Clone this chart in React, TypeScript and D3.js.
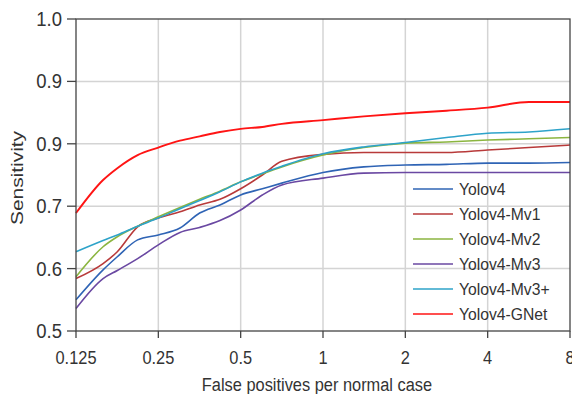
import React from "react";
import * as d3 from "d3";

// false positives per normal case (x), shared by every series
const fpRates = [0.125, 0.157, 0.177, 0.21, 0.25, 0.3, 0.354, 0.42, 0.5, 0.6, 0.707, 1, 1.41, 2, 2.83, 4, 5.66, 8];

const yolov4 = [0.550, 0.598, 0.619, 0.646, 0.654, 0.665, 0.689, 0.702, 0.718, 0.728, 0.737, 0.754, 0.763, 0.766, 0.767, 0.769, 0.769, 0.770];
const yolov4Mv1 = [0.584, 0.608, 0.627, 0.667, 0.681, 0.691, 0.702, 0.711, 0.728, 0.750, 0.772, 0.783, 0.786, 0.786, 0.786, 0.790, 0.794, 0.798];
const yolov4Mv2 = [0.587, 0.635, 0.651, 0.668, 0.683, 0.698, 0.711, 0.724, 0.739, 0.752, 0.763, 0.782, 0.794, 0.801, 0.803, 0.806, 0.808, 0.810];
const yolov4Mv3 = [0.536, 0.584, 0.597, 0.616, 0.638, 0.658, 0.666, 0.677, 0.694, 0.718, 0.734, 0.745, 0.753, 0.754, 0.754, 0.754, 0.754, 0.754];
const yolov4Mv3p = [0.627, 0.645, 0.654, 0.668, 0.681, 0.696, 0.709, 0.723, 0.739, 0.753, 0.764, 0.784, 0.795, 0.802, 0.810, 0.817, 0.819, 0.824];
const yolov4GNet = [0.689, 0.742, 0.761, 0.782, 0.794, 0.805, 0.812, 0.819, 0.824, 0.827, 0.832, 0.838, 0.844, 0.849, 0.853, 0.858, 0.867, 0.867];

const seriesNames = ["Yolov4", "Yolov4-Mv1", "Yolov4-Mv2", "Yolov4-Mv3", "Yolov4-Mv3+", "Yolov4-GNet"];
const seriesValues = [yolov4, yolov4Mv1, yolov4Mv2, yolov4Mv3, yolov4Mv3p, yolov4GNet];
const seriesColors = ["#2f64b5", "#b83a3a", "#8bb540", "#6a48a2", "#2ea3c9", "#ff1414"];

const xTicks = [0.125, 0.25, 0.5, 1, 2, 4, 8];
const xTickLabels = ["0.125", "0.25", "0.5", "1", "2", "4", "8"];
const yTicks = [0.5, 0.6, 0.7, 0.8, 0.9, 1.0];
const yTickLabels = ["0.5", "0.6", "0.7", "0.9", "0.9", "1.0"];

const W = 572;
const H = 394;
const margin = { top: 19, right: 2, bottom: 63, left: 76 };
const font = "'Liberation Sans', Arial, Helvetica, sans-serif";
const stretch = 1.1; // the source text is a little taller than wide

export default function App() {
  const x = d3.scaleLog().base(2)
    .domain([0.125, 8])
    .range([margin.left, W - margin.right]);
  const y = d3.scaleLinear()
    .domain([0.5, 1.0])
    .range([H - margin.bottom, margin.top]);

  const line = d3.line<[number, number]>()
    .x(d => x(d[0]))
    .y(d => y(d[1]))
    .curve(d3.curveMonotoneX);

  const x0 = margin.left;
  const x1 = W - margin.right;
  const y0 = H - margin.bottom;
  const y1 = margin.top;

  const legendX = 413;
  const legendY = 189;

  return (
    <svg width={W} height={H} style={{ position: "absolute", left: 0, top: 0 }}>
      <rect width={W} height={H} fill="#fff" />
      {/* grid */}
      {xTicks.slice(1, -1).map(t => (
        <line key={"gx" + t} x1={x(t)} x2={x(t)} y1={y1} y2={y0} stroke="#d4d4d4" strokeWidth={1.5} />
      ))}
      {yTicks.slice(1, -1).map(t => (
        <line key={"gy" + t} x1={x0} x2={x1} y1={y(t)} y2={y(t)} stroke="#d4d4d4" strokeWidth={1.5} />
      ))}

      {/* curves */}
      {seriesValues.map((vals, i) => (
        <path
          key={seriesNames[i]}
          d={line(fpRates.map((f, j) => [f, vals[j]] as [number, number])) || ""}
          fill="none"
          stroke={seriesColors[i]}
          strokeWidth={seriesNames[i] === "Yolov4-GNet" ? 1.9 : 1.6}
        />
      ))}

      {/* frame */}
      <rect x={x0} y={y1} width={x1 - x0} height={y0 - y1} fill="none" stroke="#444" strokeWidth={1.3} />

      {/* y axis ticks */}
      {yTicks.map((t, i) => (
        <g key={"yt" + t}>
          <line x1={x0 - 9} x2={x0} y1={y(t)} y2={y(t)} stroke="#444" strokeWidth={1.3} />
          <text
            transform={`translate(${x0 - 14}, ${y(t) + 7}) scale(1, ${stretch})`}
            textAnchor="end" fontFamily={font} fontSize={18.5} fill="#333"
          >
            {yTickLabels[i]}
          </text>
        </g>
      ))}

      {/* x axis ticks */}
      {xTicks.map((t, i) => (
        <g key={"xt" + t}>
          <line x1={x(t)} x2={x(t)} y1={y0} y2={y0 + 7} stroke="#444" strokeWidth={1.3} />
          <text
            transform={`translate(${x(t)}, ${y0 + 33}) scale(1, ${stretch})`}
            textAnchor="middle" fontFamily={font} fontSize={16.4} fill="#333"
          >
            {xTickLabels[i]}
          </text>
        </g>
      ))}

      <text
        transform={`translate(${(x0 + x1) / 2 - 6}, ${H - 3}) scale(1, ${stretch})`}
        textAnchor="middle" fontFamily={font} fontSize={16.4} fill="#333"
      >
        False positives per normal case
      </text>
      <text
        transform={`translate(23, ${(y0 + y1) / 2 + 3}) rotate(-90)`}
        textAnchor="middle"
        fontFamily={font}
        fontSize={16.5}
        textLength={94}
        lengthAdjust="spacingAndGlyphs"
        fill="#333"
      >
        Sensitivity
      </text>

      {/* legend */}
      {seriesNames.map((name, i) => (
        <g key={"lg" + name} transform={`translate(${legendX}, ${legendY + i * 25})`}>
          <line x1={0} x2={40} y1={0} y2={0} stroke={seriesColors[i]} strokeWidth={1.6} />
          <text
            transform={`translate(46, 6) scale(1, ${stretch})`}
            fontFamily={font} fontSize={15.7} fill="#333"
          >
            {name}
          </text>
        </g>
      ))}
    </svg>
  );
}
